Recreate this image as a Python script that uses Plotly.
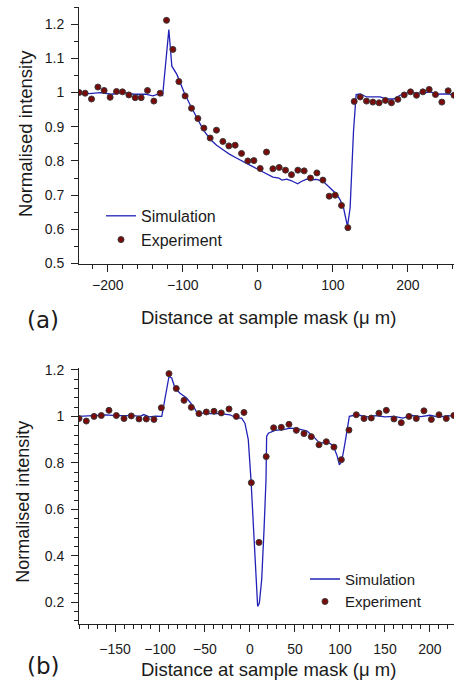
import plotly.graph_objects as go

# ---------------- data: panel (a) ----------------
sim_a_x = [-238.5, -225, -210, -195, -180, -165, -150, -140, -132, -127, -118.7, -114.7, -108, -99, -90,
           -81, -72.5, -63, -55, -46, -38, -28, -20, -10, 3, 12, 20, 28, 32, 38.7, 45, 53, 58, 65, 72,
           78.7, 87.5, 96.4, 105.3, 110, 114.2, 119.5, 123, 127.5, 131, 136.4, 145, 155, 163, 172,
           180.8, 189.7, 198.7, 210, 220, 230, 240, 250, 261.5]
sim_a_y = [1.0, 0.997, 1.0, 0.995, 1.0, 0.995, 0.995, 0.99, 0.996, 0.991, 1.184, 1.077, 1.053, 1.004, 0.962,
           0.926, 0.89, 0.862, 0.846, 0.832, 0.82, 0.808, 0.798, 0.787, 0.772, 0.762, 0.753, 0.75, 0.744, 0.747,
           0.742, 0.733, 0.74, 0.747, 0.745, 0.746, 0.739, 0.721, 0.702, 0.685, 0.663, 0.609, 0.663, 0.887,
           0.994, 0.996, 0.987, 0.987, 0.987, 0.981, 0.981, 0.992, 0.999, 0.999, 0.998, 1.002, 0.995, 0.996,
           0.994]
exp_a_x = [-238.3, -230.3, -221.8, -213.3, -205, -197, -188.5, -180.5, -172, -163.6, -155.6, -147.2, -138.7,
           -130.3, -121.8, -113.3, -105.3, -97, -88.5, -80, -72, -63.6, -55.2, -46.7, -38.7, -30.3, -21.8,
           -13.4, -5.3, 3.1, 11.5, 20, 28.4, 36.8, 44.8, 53.3, 61.7, 70.1, 78.7, 86.7, 95.1, 103.1, 111.5,
           120, 128.4, 136.4, 144.8, 153.3, 161.7, 170.1, 178.1, 186.7, 195.1, 203.5, 211.5, 220, 228.4,
           236.8, 245.3, 253.7, 261.5]
exp_a_y = [1.0, 0.998, 0.981, 1.016, 1.006, 0.986, 1.003, 1.002, 0.993, 0.985, 0.985, 1.006, 0.975,
           0.998, 1.211, 1.126, 1.032, 0.990, 0.954, 0.924, 0.896, 0.867, 0.890, 0.857, 0.844, 0.846, 0.822,
           0.800, 0.801, 0.778, 0.826, 0.777, 0.781, 0.773, 0.760, 0.773, 0.771, 0.750, 0.765, 0.744, 0.697,
           0.700, 0.670, 0.605, 0.974, 0.987, 0.975, 0.972, 0.970, 0.977, 0.970, 0.980, 0.993, 1.002, 0.992,
           1.002, 1.009, 0.994, 0.972, 1.005, 0.992]

# ---------------- data: panel (b) ----------------
sim_b_x = [-190, -180, -170, -160, -150, -140, -130, -122, -118, -112, -105, -98, -92.6, -90, -87, -83.3,
           -77.8, -70.4, -63, -57.4, -51.9, -45, -35, -22.2, -14.8, -9.3, -5.6, -1.9, 1.1, 3.7, 6.7, 8.5,
           10.4, 13, 15.6, 17.8, 18.5, 20.4, 27.8, 37, 44.4, 51.9, 63, 70.4, 77.8, 85.2, 92.6, 97, 99.3,
           101.9, 105.6, 108.1, 110.4, 118.5, 130, 140, 150, 160, 170, 180, 190, 200, 210, 220, 226.7]
sim_b_y = [1.0, 1.003, 1.005, 1.007, 1.003, 1.004, 1.003, 1.0, 1.008, 0.998, 1.001, 1.0, 1.129, 1.172,
           1.165, 1.122, 1.10, 1.079, 1.043, 1.007, 1.015, 1.012, 1.013, 1.007, 0.993, 0.993, 0.971, 0.9,
           0.728, 0.513, 0.298, 0.183, 0.197, 0.298, 0.513, 0.728, 0.914, 0.928, 0.94, 0.943, 0.95, 0.947,
           0.938, 0.914, 0.883, 0.892, 0.874, 0.828, 0.792, 0.806, 0.886, 0.957, 1.0, 1.007, 0.998, 1.003,
           0.998, 1.0, 0.993, 1.004, 0.999, 1.005, 0.997, 1.003, 1.0]
exp_b_x = [-190, -181.9, -173.3, -165.2, -156.7, -148.5, -140, -131.9, -123.3, -115.2, -106.7, -98.5, -90,
           -81.9, -73.3, -65.2, -56.7, -48.5, -40, -31.9, -23.3, -15.2, -6.7, 1.5, 10, 18, 26.3, 34.8, 43.3,
           51.5, 60, 68.1, 76.7, 84.8, 93.3, 101.5, 110, 118.1, 126.7, 134.8, 143.3, 151.5, 160, 168.1,
           176.7, 184.8, 193.3, 201.5, 210, 218.1, 226.5]
exp_b_y = [0.991, 0.980, 1.0, 1.004, 1.026, 1.004, 0.991, 1.002, 0.989, 0.989, 0.987, 1.037, 1.184, 1.120,
           1.069, 1.039, 1.012, 1.019, 1.022, 1.015, 1.032, 1.0, 1.017, 0.715, 0.458, 0.827, 0.951, 0.953,
           0.966, 0.940, 0.926, 0.913, 0.878, 0.891, 0.868, 0.814, 0.941, 1.007, 0.991, 0.993, 1.014, 1.026,
           0.989, 0.973, 1.0, 0.991, 1.024, 0.987, 1.007, 0.991, 1.004]

xticks_a = [-200, -100, 0, 100, 200]
yticks_a = [0.5, 0.6, 0.7, 0.8, 0.9, 1.0, 1.1, 1.2]
xticks_b = [-150, -100, -50, 0, 50, 100, 150, 200]
yticks_b = [0.2, 0.4, 0.6, 0.8, 1.0, 1.2]

# ---------------- styling ----------------
LINE_C = "#2222b8"
MK_C = "#7a0a0a"
FONT = "Liberation Sans, Arial, sans-serif"
TXT = "#1a1a1a"

W, H = 454, 681
L, R, T, B = 79, 0, 7, 56.7
PH = H - T - B
PW = W - L - R


def px2x(px):
    return (px - L) / PW


def py2y(py):
    return (H - B - py) / PH


fig = go.Figure()
fig.add_trace(go.Scatter(x=sim_a_x, y=sim_a_y, mode="lines", name="Simulation",
                         line=dict(color=LINE_C, width=1.3), xaxis="x", yaxis="y", legend="legend"))
fig.add_trace(go.Scatter(x=exp_a_x, y=exp_a_y, mode="markers", name="Experiment",
                         marker=dict(color=MK_C, size=6, line=dict(color="#3a3a3a", width=1)),
                         xaxis="x", yaxis="y", legend="legend"))
fig.add_trace(go.Scatter(x=sim_b_x, y=sim_b_y, mode="lines", name="Simulation",
                         line=dict(color=LINE_C, width=1.3), xaxis="x2", yaxis="y2", legend="legend2"))
fig.add_trace(go.Scatter(x=exp_b_x, y=exp_b_y, mode="markers", name="Experiment",
                         marker=dict(color=MK_C, size=6, line=dict(color="#3a3a3a", width=1)),
                         xaxis="x2", yaxis="y2", legend="legend2"))

axis_common = dict(showgrid=False, zeroline=False, showline=True, linecolor="#222", linewidth=1,
                   ticks="outside", ticklen=7, tickcolor="#222", tickwidth=1, automargin=False,
                   tickangle=0, tickfont=dict(family=FONT, size=14, color=TXT), mirror=False)

top_dom = [py2y(263.7), 1.0]
bot_dom = [0.0, py2y(368)]

fig.update_layout(
    width=W, height=H,
    margin=dict(l=L, r=R, t=T, b=B, pad=0, autoexpand=False),
    paper_bgcolor="white", plot_bgcolor="white",
    showlegend=True,
    xaxis=dict(domain=[0, 1], anchor="y", range=[-238.5, 261.5], tickvals=xticks_a,
               ticklabelstandoff=2,
               minor=dict(dtick=20, tick0=0, ticks="outside", ticklen=4, tickcolor="#222"),
               **axis_common),
    yaxis=dict(domain=top_dom, anchor="x", range=[0.5, 1.25], tickvals=yticks_a,
               ticktext=[f"{v:g}" for v in yticks_a], ticklabelstandoff=4,
               minor=dict(dtick=0.05, tick0=0, ticks="outside", ticklen=4, tickcolor="#222"),
               **axis_common),
    xaxis2=dict(domain=[0, 1], anchor="y2", range=[-190, 226.7], tickvals=xticks_b,
                ticklabelstandoff=5,
                minor=dict(dtick=10, tick0=0, ticks="outside", ticklen=4, tickcolor="#222"),
                **axis_common),
    yaxis2=dict(domain=bot_dom, anchor="x2", range=[0.107, 1.209], tickvals=yticks_b,
                ticktext=[f"{v:g}" for v in yticks_b], ticklabelstandoff=4,
                minor=dict(dtick=0.04, tick0=0, ticks="outside", ticklen=4, tickcolor="#222"),
                **axis_common),
    legend=dict(x=px2x(101), y=py2y(199),
                xanchor="left", yanchor="top", bgcolor="rgba(0,0,0,0)",
                font=dict(family=FONT, size=16, color=TXT), tracegroupgap=0, itemwidth=30),
    legend2=dict(x=px2x(305), y=py2y(563),
                 xanchor="left", yanchor="top", bgcolor="rgba(0,0,0,0)",
                 font=dict(family=FONT, size=15, color=TXT), tracegroupgap=0, itemwidth=30),
)

ann = []
ann.append(dict(text="Normalised intensity", x=px2x(26), y=py2y(134), textangle=-90,
                font=dict(family=FONT, size=18.5, color=TXT)))
ann.append(dict(text="Normalised intensity", x=px2x(23), y=py2y(502), textangle=-90,
                font=dict(family=FONT, size=18, color=TXT)))
ann.append(dict(text="Distance at sample mask (\u03bc m)", x=px2x(268), y=py2y(318),
                font=dict(family=FONT, size=18.5, color=TXT)))
ann.append(dict(text="Distance at sample mask (\u03bc m)", x=px2x(268), y=py2y(670),
                font=dict(family=FONT, size=18.5, color=TXT)))
ann.append(dict(text="(a)", x=px2x(43), y=py2y(320),
                font=dict(family="DejaVu Sans, sans-serif", size=23, color=TXT)))
ann.append(dict(text="(b)", x=px2x(43), y=py2y(666),
                font=dict(family="DejaVu Sans, sans-serif", size=23, color=TXT)))
for a in ann:
    a.update(xref="paper", yref="paper", showarrow=False, xanchor="center", yanchor="middle")
fig.update_layout(annotations=ann)

fig.write_html("out.html", config={"displayModeBar": False},
               post_script="document.body.style.margin='0';document.body.style.padding='0';"
                           "document.body.style.overflow='hidden';")
